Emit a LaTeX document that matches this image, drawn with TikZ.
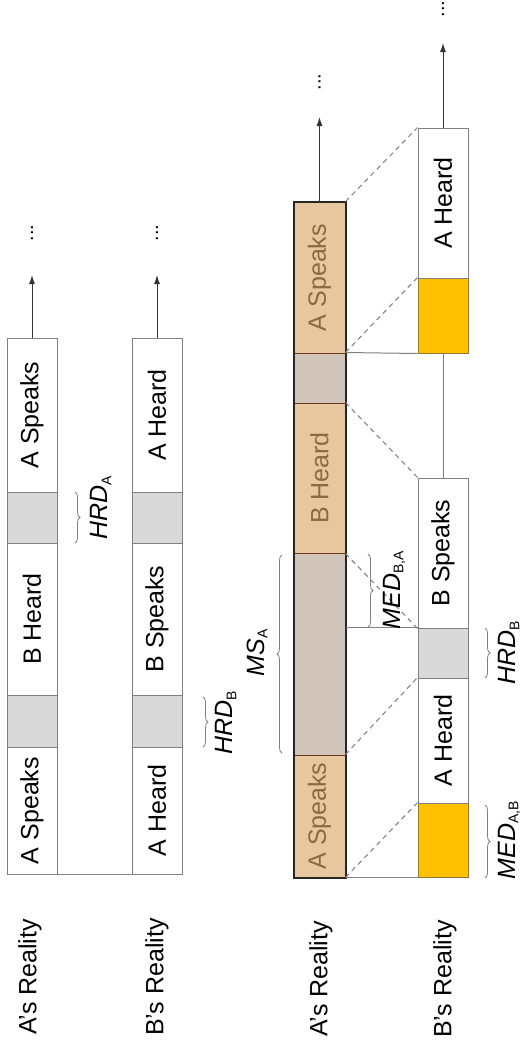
\documentclass[tikz,border=0pt]{standalone}
\usepackage{fontspec}
\setmainfont{Liberation Sans}
\usetikzlibrary{arrows.meta,decorations.pathreplacing}
\definecolor{cellgray}{HTML}{D9D9D9}
\definecolor{edgegray}{HTML}{808080}
\definecolor{tan}{HTML}{E8C6A0}
\definecolor{tangray}{HTML}{D2C6BA}
\definecolor{tantext}{HTML}{8C6A3C}
\definecolor{tanedge}{HTML}{6B3A1E}
\definecolor{gold}{HTML}{FFC000}
\definecolor{goldedge}{HTML}{8F7A30}
\newcommand{\lbl}[1]{\rotatebox{90}{#1}}
\newcommand{\dlbl}[2]{\rotatebox{90}{\textit{#1}\raisebox{-0.25ex}{\fontsize{14}{16}\selectfont #2}}}
\begin{document}
\begin{tikzpicture}[x=1pt,y=-1pt,
  every node/.style={font=\fontsize{25}{29}\selectfont},
  cell/.style={draw=edgegray,line width=1pt,fill=white,inner sep=0pt,minimum width=50pt},
  graycell/.style={cell,fill=cellgray},
  tancell/.style={draw=tanedge,line width=1pt,fill=tan,inner sep=0pt,minimum width=51pt,text=tantext},
  tangraycell/.style={tancell,fill=tangray},
  goldcell/.style={draw=goldedge,line width=1pt,fill=gold,inner sep=0pt,minimum width=50pt},
  conn/.style={draw=edgegray,line width=1pt},
  arr/.style={draw=black!80,line width=1pt,-{Latex[length=9pt,width=6pt]}},
  dashline/.style={draw=edgegray,line width=1pt,dash pattern=on 5pt off 4pt},
  bracer/.style={draw=edgegray,line width=0.8pt,decorate,decoration={brace,amplitude=5pt}},
  dots/.style={inner sep=0pt,font=\fontsize{20}{24}\selectfont}
]
\useasboundingbox (0,0) rectangle (531,1050);
\fill[white] (0,0) rectangle (531,1050);

% ---- Top section: A's Reality
\node[cell,minimum height=127pt] (a1) at (32,810.5) {\lbl{A Speaks}};
\node[graycell,minimum height=52pt] (ag1) at (32,721) {};
\node[cell,minimum height=152pt] (a2) at (32,619) {\lbl{B Heard}};
\node[graycell,minimum height=51pt] (ag2) at (32,517.5) {};
\node[cell,minimum height=154pt] (a3) at (32,415) {\lbl{A Speaks}};
\coordinate (at) at (32,275);
\draw[arr] (a3.north) -- (at);
\node[dots] (ad) at (32,233) {\lbl{...}};

% ---- Top section: B's Reality
\node[cell,minimum height=127pt] (b1) at (157,810.5) {\lbl{A Heard}};
\node[graycell,minimum height=52pt] (bg1) at (157,721) {};
\node[cell,minimum height=152pt] (b2) at (157,619) {\lbl{B Speaks}};
\node[graycell,minimum height=51pt] (bg2) at (157,517.5) {};
\node[cell,minimum height=154pt] (b3) at (157,415) {\lbl{A Heard}};
\coordinate (bt) at (157,275);
\draw[arr] (b3.north) -- (bt);
\node[dots] (bd) at (157,233) {\lbl{...}};

\draw[conn] (a1.south east) -- (b1.south west);

\draw[bracer] (75,492) -- (75,543);
\node (hrda) at (101,508) {\dlbl{HRD}{A}};
\draw[bracer] (203,697) -- (203,747);
\node (hrdb1) at (226,723) {\dlbl{HRD}{B}};

% ---- Bottom section: A's Reality
\node[tancell,minimum height=122pt] (d1) at (319.5,816) {\lbl{A Speaks}};
\node[tangraycell,minimum height=202pt] (dg1) at (319.5,654) {};
\node[tancell,minimum height=150pt] (d2) at (319.5,478) {\lbl{B Heard}};
\node[tangraycell,minimum height=50pt] (dg2) at (319.5,378) {};
\node[tancell,minimum height=151pt] (d3) at (319.5,277.5) {\lbl{A Speaks}};
\draw[black!85,line width=2pt] (d3.north west) rectangle (d1.south east);
\coordinate (dt) at (319.5,117);
\draw[arr] (d3.north) -- (dt);
\node[dots] (dd) at (319.5,82) {\lbl{...}};

% ---- Bottom section: B's Reality
\node[goldcell,minimum height=74pt] (e1) at (443,840) {};
\node[cell,minimum height=125pt] (e2) at (443,740.5) {\lbl{A Heard}};
\node[graycell,minimum height=50pt] (eg) at (443,653) {};
\node[cell,minimum height=150pt] (e3) at (443,553) {\lbl{B Speaks}};
\node[goldcell,minimum height=75pt] (e4) at (443,315.5) {};
\node[cell,minimum height=150pt] (e5) at (443,203) {\lbl{A Heard}};
\draw[conn] (e3.north) -- (e4.south);
\coordinate (et) at (443,43);
\draw[arr] (e5.north) -- (et);
\node[dots] (ed) at (443,9) {\lbl{...}};

% connectors between the two bottom rows
\draw[conn] (d1.south east) -- (e1.south west);
\draw[conn] (dg1.east |- eg.north west) -- (eg.north west);
\draw[conn] (dg2.north east) -- (e4.south west);
\draw[dashline] (d1.south east) -- (e1.north west);
\draw[dashline] (d1.north east) -- (e2.north west);
\draw[dashline] (d2.south east) -- (e3.south west);
\draw[dashline] (d2.north east) -- (e3.north west);
\draw[dashline] (dg2.north east) -- (e4.north west);
\draw[dashline] (d3.north east) -- (e5.north west);

% braces and labels
\draw[bracer] (282,753) -- (282,555);
\node (msa) at (257,653) {\dlbl{MS}{A}};
\draw[bracer] (368,554) -- (368,627);
\node (medba) at (394,590) {\dlbl{MED}{B,A}};
\draw[bracer] (485,628) -- (485,678);
\node (hrdb2) at (509,653) {\dlbl{HRD}{B}};
\draw[bracer] (485,805) -- (485,878);
\node (medab) at (509,840) {\dlbl{MED}{A,B}};

% row labels
\node (ra1) at (30,977) {\lbl{A's Reality}};
\node (rb1) at (157,977) {\lbl{B's Reality}};
\node (ra2) at (321,979) {\lbl{A's Reality}};
\node (rb2) at (445,979) {\lbl{B's Reality}};
\end{tikzpicture}
\end{document}
